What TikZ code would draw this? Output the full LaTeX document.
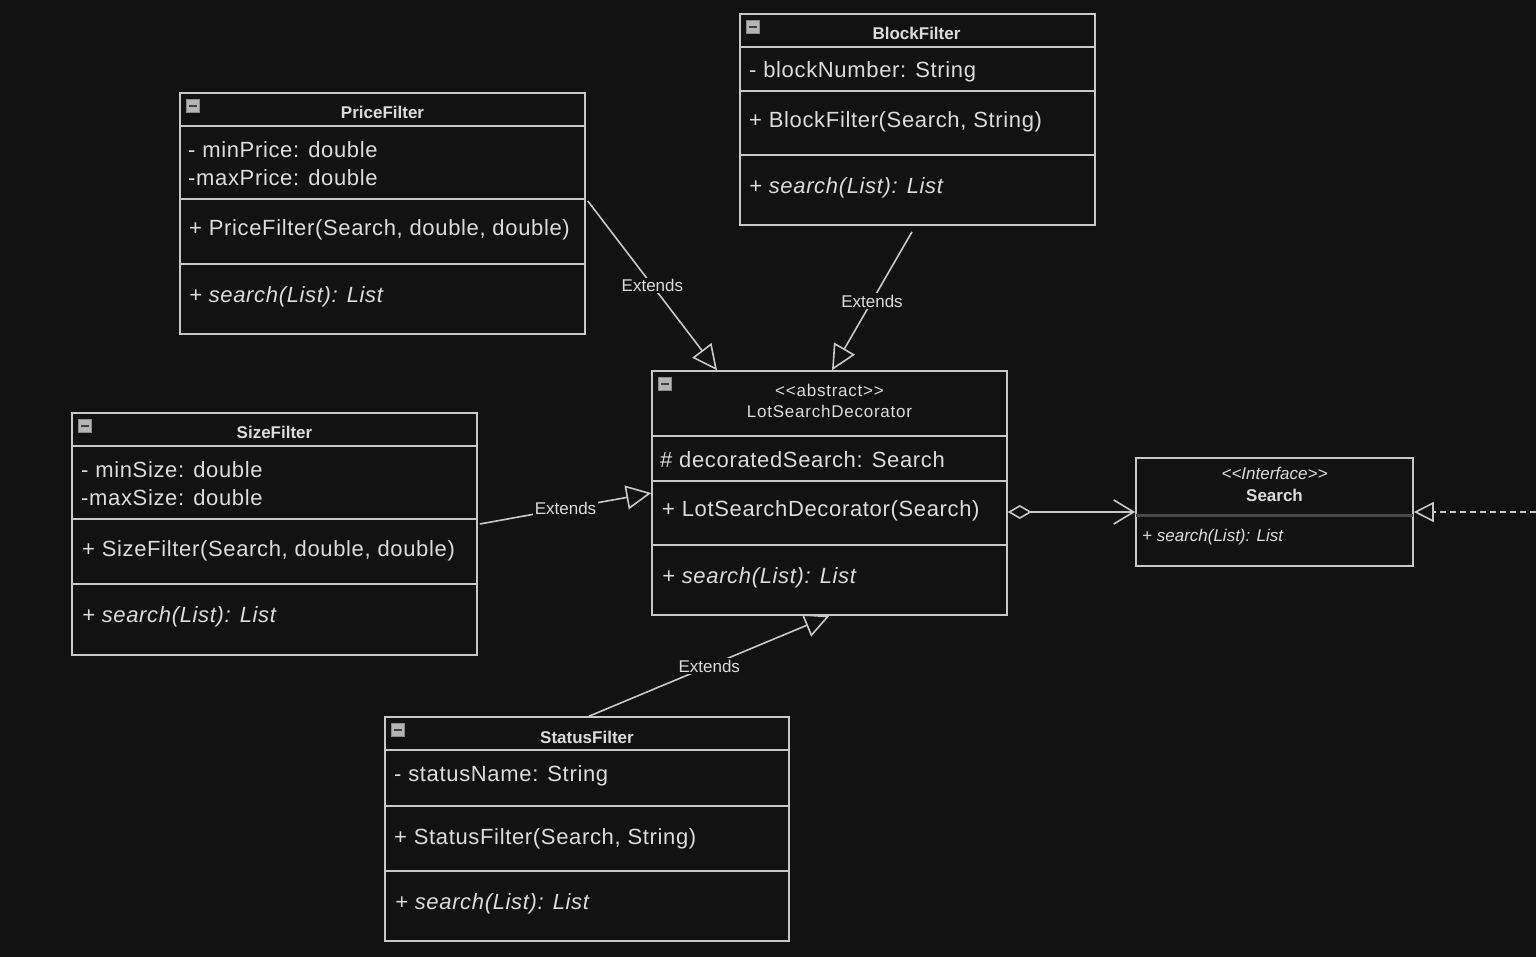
\documentclass[tikz,border=0pt]{standalone}
\usepackage{fontspec}
\setmainfont{Liberation Sans}
\newfontfamily\memberfont[LetterSpace=3]{Liberation Sans}
\newfontfamily\stereofont[LetterSpace=4.5]{Liberation Sans}
\usetikzlibrary{arrows.meta,calc}
\definecolor{bg}{HTML}{121212}
\definecolor{edge}{HTML}{C8C8C8}
\definecolor{ink}{HTML}{DCDCDC}
\definecolor{sepdark}{HTML}{4A4A4A}
\definecolor{iconfill}{HTML}{B4B4B4}
\definecolor{iconline}{HTML}{8A8A8A}
\begin{document}
\begin{tikzpicture}[x=1pt,y=-1pt,
  classbox/.style={draw=edge, line width=1.6pt, rectangle, inner sep=0pt},
  sep/.style={draw=edge, line width=1.6pt},
  member/.style={anchor=west, inner sep=0pt, text=ink, font=\memberfont\fontsize{22}{26}\selectfont, text height=15.7pt, text depth=0pt},
  opmember/.style={member, font=\memberfont\fontsize{22}{26}\selectfont\itshape},
  title/.style={inner sep=0pt, text=ink, font=\fontsize{17}{20}\selectfont\bfseries, text height=12.2pt, text depth=0pt},
  stereo/.style={title, font=\stereofont\fontsize{17}{20}\selectfont},
  smallop/.style={anchor=west, inner sep=0pt, text=ink, font=\fontsize{17}{20}\selectfont\itshape, text height=12.2pt, text depth=0pt},
  collapse/.style={draw=iconline, fill=iconfill, line width=0.8pt, minimum size=13pt, inner sep=0pt, anchor=north west},
  minusbar/.style={draw=black!75, line width=2pt},
  extends/.style={draw=edge, line width=1.6pt, -{Triangle[open, length=25pt, width=24pt]}},
  lbl/.style={fill=bg, text=ink, font=\fontsize{17}{20}\selectfont, inner sep=1.5pt}
]
\useasboundingbox (0,0) rectangle (1536,957);
\fill[bg] (0,0) rectangle (1536,957);

% ---------- PriceFilter ----------
\node[classbox, minimum width=405pt, minimum height=241pt] (price) at (382.5,213.5) {};
\draw[sep] (price.west |- 0,126) -- (price.east |- 0,126);
\draw[sep] (price.west |- 0,199) -- (price.east |- 0,199);
\draw[sep] (price.west |- 0,264) -- (price.east |- 0,264);
\node[collapse] (priceicon) at (186,99) {};
\draw[minusbar] ([xshift=3pt]priceicon.west) -- ([xshift=-3pt]priceicon.east);
\node[title] (pricename) at (382.5,112) {PriceFilter};
\node[member] (pricea1) at (188,150) {- minPrice: double};
\node[member] (pricea2) at (188,178) {-maxPrice: double};
\node[member] (pricec) at (189,228) {+ PriceFilter(Search, double, double)};
\node[opmember] (pricem) at (189,295) {+ search(List): List};

% ---------- BlockFilter ----------
\node[classbox, minimum width=355pt, minimum height=211pt] (block) at (917.5,119.5) {};
\draw[sep] (block.west |- 0,47) -- (block.east |- 0,47);
\draw[sep] (block.west |- 0,91) -- (block.east |- 0,91);
\draw[sep] (block.west |- 0,155) -- (block.east |- 0,155);
\node[collapse] (blockicon) at (746,20) {};
\draw[minusbar] ([xshift=3pt]blockicon.west) -- ([xshift=-3pt]blockicon.east);
\node[title] (blockname) at (916.5,33) {BlockFilter};
\node[member] (blocka1) at (749,70) {- blockNumber: String};
\node[member] (blockc) at (749,120) {+ BlockFilter(Search, String)};
\node[opmember] (blockm) at (749,186) {+ search(List): List};

% ---------- SizeFilter ----------
\node[classbox, minimum width=405pt, minimum height=242pt] (size) at (274.5,534) {};
\draw[sep] (size.west |- 0,446) -- (size.east |- 0,446);
\draw[sep] (size.west |- 0,519) -- (size.east |- 0,519);
\draw[sep] (size.west |- 0,584) -- (size.east |- 0,584);
\node[collapse] (sizeicon) at (78,419) {};
\draw[minusbar] ([xshift=3pt]sizeicon.west) -- ([xshift=-3pt]sizeicon.east);
\node[title] (sizename) at (274.5,432) {SizeFilter};
\node[member] (sizea1) at (81,470) {- minSize: double};
\node[member] (sizea2) at (81,498) {-maxSize: double};
\node[member] (sizec) at (82,549) {+ SizeFilter(Search, double, double)};
\node[opmember] (sizem) at (82,615) {+ search(List): List};

% ---------- LotSearchDecorator ----------
\node[classbox, minimum width=355pt, minimum height=244pt] (lsd) at (829.5,493) {};
\draw[sep] (lsd.west |- 0,436) -- (lsd.east |- 0,436);
\draw[sep] (lsd.west |- 0,481) -- (lsd.east |- 0,481);
\draw[sep] (lsd.west |- 0,545) -- (lsd.east |- 0,545);
\node[collapse] (lsdicon) at (658,377) {};
\draw[minusbar] ([xshift=3pt]lsdicon.west) -- ([xshift=-3pt]lsdicon.east);
\node[stereo] (lsdstereo) at (829.5,390) {<{}<abstract>{}>};
\node[stereo] (lsdname) at (829.5,411) {LotSearchDecorator};
\node[member] (lsda1) at (660,460) {\# decoratedSearch: Search};
\node[member] (lsdc) at (662,509) {+ LotSearchDecorator(Search)};
\node[opmember] (lsdm) at (662,576) {+ search(List): List};

% ---------- StatusFilter ----------
\node[classbox, minimum width=404pt, minimum height=224pt] (status) at (587,829) {};
\draw[sep] (status.west |- 0,750) -- (status.east |- 0,750);
\draw[sep] (status.west |- 0,806) -- (status.east |- 0,806);
\draw[sep] (status.west |- 0,871) -- (status.east |- 0,871);
\node[collapse] (statusicon) at (391,723) {};
\draw[minusbar] ([xshift=3pt]statusicon.west) -- ([xshift=-3pt]statusicon.east);
\node[title] (statusname) at (587,737) {StatusFilter};
\node[member] (statusa1) at (394,774) {- statusName: String};
\node[member] (statusc) at (394,837) {+ StatusFilter(Search, String)};
\node[opmember] (statusm) at (395,902) {+ search(List): List};

% ---------- Search interface ----------
\node[classbox, minimum width=277pt, minimum height=108pt] (search) at (1274.5,512) {};
\draw[sepdark, line width=3pt] ($(search.west)+(1,3)$) -- ($(search.east)+(-1,3)$);
\node[stereo, font=\fontsize{17}{20}\selectfont\itshape] (searchstereo) at (1274.5,473) {<{}<Interface>{}>};
\node[title] (searchname) at (1274.5,495) {Search};
\node[smallop] (searchm) at (1142,535) {+ search(List): List};

% ---------- Generalisations ----------
\draw[extends] ([xshift=2pt,yshift=12.5pt]price.east) -- node[lbl] (l1) {Extends} ([xshift=-112.5pt]lsd.north);
\draw[extends] ([xshift=-5.5pt,yshift=-6pt]block.south) -- node[lbl] (l2) {Extends} ([xshift=2.5pt]lsd.north);
\draw[extends] ([xshift=2pt,yshift=10pt]size.east) -- node[lbl] (l3) {Extends} (lsd.west);
\draw[extends] ([xshift=2pt]status.north) -- node[lbl] (l4) {Extends} (lsd.south);

% ---------- Aggregation of the decorated search ----------
\draw[draw=edge, line width=1.6pt,
      {Diamond[open, length=24pt, width=14pt]}-{Straight Barb[length=20pt, width=24pt]}]
  ([yshift=-19pt]lsd.east) -- (search.west);

% ---------- Realisation coming from the right ----------
\coordinate (impl) at (1536,512);
\draw[draw=edge, line width=1.6pt, dash pattern=on 6pt off 4pt,
      -{Triangle[open, length=20pt, width=20pt]}] (impl) -- (search.east);
\end{tikzpicture}
\end{document}
